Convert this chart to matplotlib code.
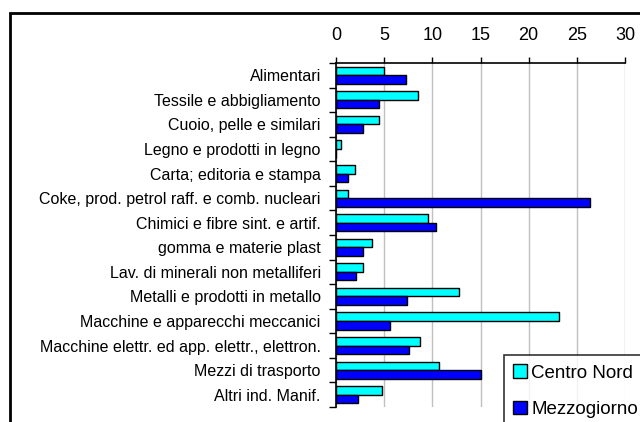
import matplotlib
matplotlib.use("Agg")
import matplotlib.pyplot as plt
import numpy as np
from matplotlib.patches import Rectangle

plt.rcParams["font.family"] = ["Liberation Sans", "DejaVu Sans"]

categories = [
    "Alimentari",
    "Tessile e abbigliamento",
    "Cuoio, pelle e similari",
    "Legno e prodotti in legno",
    "Carta; editoria e stampa",
    "Coke, prod. petrol raff. e comb. nucleari",
    "Chimici e fibre sint. e artif.",
    "gomma e materie plast",
    "Lav. di minerali non metalliferi",
    "Metalli e prodotti in metallo",
    "Macchine e apparecchi meccanici",
    "Macchine elettr. ed app. elettr., elettron.",
    "Mezzi di trasporto",
    "Altri ind. Manif.",
]
centro_nord = [5.0, 8.5, 4.45, 0.5, 2.0, 1.25, 9.6, 3.7, 2.8, 12.8, 23.2, 8.7, 10.7, 4.8]
mezzogiorno = [7.25, 4.45, 2.8, 0.0, 1.25, 26.35, 10.4, 2.8, 2.1, 7.4, 5.6, 7.6, 15.05, 2.25]
series_names = ["Centro Nord", "Mezzogiorno"]
x_ticks = [0, 5, 10, 15, 20, 25, 30]

fig = plt.figure(figsize=(6.4, 4.22), dpi=100)
ax = fig.add_axes([336 / 640, 1 - 407 / 422, 289 / 640, 344 / 422])

y = np.arange(len(categories))
h = 0.35
ax.barh(y - h / 2, centro_nord, height=h, color="#00FFFF", edgecolor="black",
        linewidth=1.0, label=series_names[0], zorder=3)
ax.barh(y + h / 2, mezzogiorno, height=h, color="#0000FF", edgecolor="black",
        linewidth=1.0, label=series_names[1], zorder=3)

ax.set_xlim(0, 30)
ax.set_ylim(len(categories) - 0.5, -0.5)
ax.xaxis.tick_top()
ax.set_xticks(x_ticks)
ax.tick_params(axis="x", direction="out", length=4, width=1, labelsize=13, pad=10, colors="black")
ax.grid(axis="x", color="#c0c0c0", linewidth=1, zorder=0)

ax.set_yticks(y)
ax.set_yticklabels(categories, fontsize=11.5)
ax.set_yticks(np.arange(len(categories) + 1) - 0.5, minor=True)
ax.tick_params(axis="y", which="major", length=0, pad=11)
ax.tick_params(axis="y", which="minor", length=5, width=1, direction="out")

for side in ["right", "bottom"]:
    ax.spines[side].set_visible(False)
ax.spines["top"].set_linewidth(1.2)
ax.spines["left"].set_linewidth(1.2)

# outer chart border (cropped)
fig.patches.append(Rectangle((10 / 640, -0.1), 1.2, 1 - 13 / 422 + 0.1,
                             transform=fig.transFigure, fill=False,
                             edgecolor="black", linewidth=2))

leg = fig.legend(loc="upper left", bbox_to_anchor=(504 / 640, 1 - 355 / 422),
                 fontsize=13.5, frameon=True, fancybox=False, edgecolor="black",
                 handlelength=0.7, handleheight=0.7, handletextpad=0.25,
                 borderpad=0.5, labelspacing=1.05, borderaxespad=0)
leg.get_frame().set_linewidth(1.2)

fig.savefig("out.png", dpi=100)
